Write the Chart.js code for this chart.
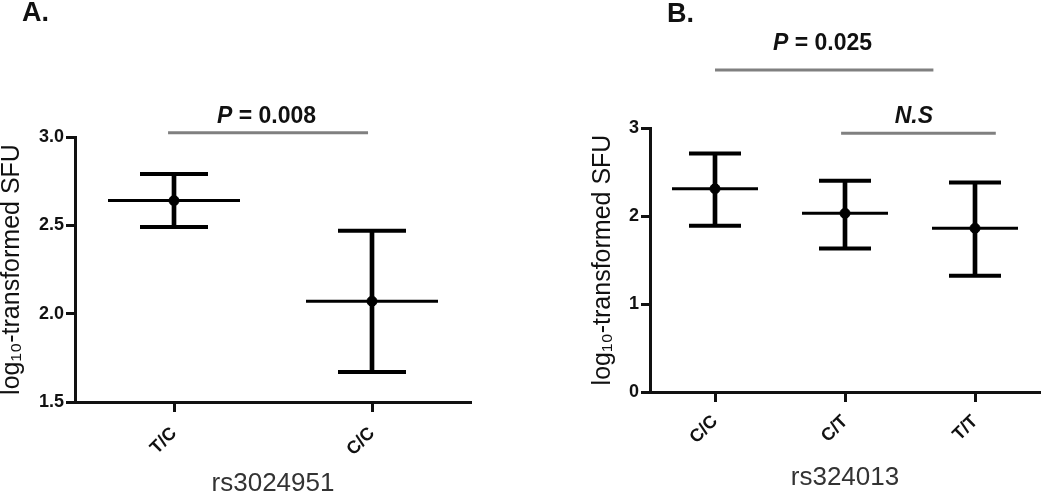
<!DOCTYPE html>
<html>
<head>
<meta charset="utf-8">
<script src="https://cdn.jsdelivr.net/npm/chart.js@4.4.0/dist/chart.umd.min.js"></script>
<style>
  html, body { margin: 0; padding: 0; background: #fff; }
  #wrap { position: relative; width: 1050px; height: 497px; overflow: hidden; }
  .panel { position: absolute; top: 0; height: 497px; }
  #panelA { left: 0; width: 520px; }
  #panelB { left: 520px; width: 530px; }
  .tag { position: absolute; font: bold 27px "Liberation Sans", Arial, sans-serif; line-height: 27px; color: #111; }
</style>
</head>
<body>
<div id="wrap">
  <div class="panel" id="panelA"><canvas id="chartA"></canvas></div>
  <div class="panel" id="panelB"><canvas id="chartB"></canvas></div>
  <div class="tag" style="left:22px; top:-1px">A.</div>
  <div class="tag" style="left:667px; top:0px">B.</div>
</div>
<script>
// panel A: rs3024951
const genoA = ['T/C', 'C/C'];
const meanA = [2.64, 2.07];
const lowA = [2.49, 1.67];
const highA = [2.79, 2.47];
const yTicksA = [1.5, 2.0, 2.5, 3.0];

// panel B: rs324013
const genoB = ['C/C', 'C/T', 'T/T'];
const meanB = [2.31, 2.03, 1.86];
const lowB = [1.89, 1.63, 1.32];
const highB = [2.71, 2.40, 2.38];
const yTicksB = [0, 1, 2, 3];

const FAMILY = '"Liberation Sans", Arial, sans-serif';
const INK = '#111';

// significance bars above the groups
const bracketPlugin = {
    id: 'brackets',
    afterDraw(chart, args, opts) {
        const {ctx, scales: {x, y}} = chart;
        (opts.items || []).forEach(b => {
            let x0 = x.getPixelForValue(b.x0);
            let x1 = x.getPixelForValue(b.x1);
            let yl = y.getPixelForValue(b.y);
            ctx.save();
            ctx.strokeStyle = '#808080';
            ctx.lineWidth = 3;
            ctx.beginPath();
            ctx.moveTo(x0, yl);
            ctx.lineTo(x1, yl);
            ctx.stroke();

            let italic = `italic bold 23px ${FAMILY}`;
            let bold = `bold 23px ${FAMILY}`;
            ctx.font = italic;
            let w1 = ctx.measureText(b.em).width;
            ctx.font = bold;
            let w2 = ctx.measureText(b.rest).width;
            let cx = x.getPixelForValue(b.tx);
            let ty = y.getPixelForValue(b.ty);
            let sx = cx - (w1 + w2) / 2;
            ctx.fillStyle = INK;
            ctx.textAlign = 'left';
            ctx.textBaseline = 'alphabetic';
            ctx.font = italic;
            ctx.fillText(b.em, sx, ty);
            ctx.font = bold;
            ctx.fillText(b.rest, sx + w1, ty);
            ctx.restore();
        });
    }
};

function pointSet(data, style, radius, width) {
    return {
        type: 'line',
        data: data,
        showLine: false,
        pointStyle: style,
        pointRadius: radius,
        pointHoverRadius: radius,
        pointBorderColor: '#000',
        pointBackgroundColor: '#000',
        pointBorderWidth: width,
        clip: false
    };
}

function buildChart(canvasId, s) {
    return new Chart(document.getElementById(canvasId), {
        type: 'bar',
        data: {
            labels: s.labels,
            datasets: [
                pointSet(s.means, 'circle', 5, 1),
                pointSet(s.means, 'line', s.meanHalf, 3),
                pointSet(s.highs, 'line', s.capHalf, 4),
                pointSet(s.lows, 'line', s.capHalf, 4),
                {
                    type: 'bar',
                    data: s.labels.map((l, i) => [s.lows[i], s.highs[i]]),
                    backgroundColor: '#000',
                    borderWidth: 0,
                    barThickness: 4
                }
            ]
        },
        options: {
            responsive: true,
            maintainAspectRatio: false,
            animation: false,
            events: [],
            layout: { padding: s.padding, autoPadding: false },
            plugins: {
                legend: { display: false },
                tooltip: { enabled: false },
                brackets: { items: s.brackets }
            },
            scales: {
                x: {
                    type: 'category',
                    offset: true,
                    ticks: {
                        minRotation: 45,
                        maxRotation: 45,
                        color: INK,
                        padding: s.xTickPad,
                        font: { family: FAMILY, size: 18, weight: 'bold' }
                    },
                    grid: {
                        offset: false,
                        drawOnChartArea: false,
                        tickLength: 10,
                        tickWidth: 3,
                        tickColor: INK
                    },
                    border: { display: true, color: INK, width: 3 },
                    title: {
                        display: true,
                        text: s.xTitle,
                        color: '#333',
                        font: { family: FAMILY, size: 26, lineHeight: 1 },
                        padding: { top: 0, bottom: s.xTitlePad }
                    },
                    afterFit: sc => {
                        sc.height = s.xHeight;
                        sc.paddingLeft = 0;
                        sc.paddingRight = 0;
                    }
                },
                y: {
                    min: s.yTicks[0],
                    max: s.yTicks[s.yTicks.length - 1],
                    afterBuildTicks: sc => { sc.ticks = s.yTicks.map(v => ({ value: v })); },
                    ticks: {
                        color: INK,
                        padding: s.yTickPad,
                        font: { family: FAMILY, size: 18, weight: 'bold' },
                        callback: s.yFormat
                    },
                    grid: {
                        drawOnChartArea: false,
                        tickLength: 9,
                        tickWidth: 3,
                        tickColor: INK
                    },
                    border: { display: true, color: INK, width: 3 },
                    title: {
                        display: true,
                        text: 'log₁₀-transformed SFU',
                        color: INK,
                        font: { family: FAMILY, size: 25, lineHeight: 1 },
                        padding: { top: s.yTitlePad, bottom: 0 }
                    },
                    afterFit: sc => {
                        sc.width = s.yWidth;
                        sc.paddingTop = 0;
                        sc.paddingBottom = 0;
                    }
                }
            }
        },
        plugins: [bracketPlugin]
    });
}

buildChart('chartA', {
    labels: genoA, means: meanA, lows: lowA, highs: highA,
    yTicks: yTicksA, yFormat: v => Number(v).toFixed(1),
    xTitle: 'rs3024951', xTitlePad: 0, xHeight: 95, xTickPad: 11,
    yWidth: 75, yTickPad: 2, yTitlePad: 0,
    meanHalf: 66, capHalf: 34,
    padding: { top: 137, right: 49, left: 0, bottom: 0 },
    brackets: [
        { x0: -0.03, x1: 0.98, y: 3.024, tx: 0.467, ty: 3.079, em: 'P', rest: ' = 0.008' }
    ]
});

buildChart('chartB', {
    labels: genoB, means: meanB, lows: lowB, highs: highB,
    yTicks: yTicksB, yFormat: v => String(v),
    xTitle: 'rs324013', xTitlePad: 6, xHeight: 105, xTickPad: 9,
    yWidth: 130, yTickPad: 2, yTitlePad: 71,
    meanHalf: 43, capHalf: 26,
    padding: { top: 128, right: 10, left: 0, bottom: 0 },
    brackets: [
        { x0: 0, x1: 1.68, y: 3.66, tx: 0.827, ty: 3.892, em: 'P', rest: ' = 0.025' },
        { x0: 0.97, x1: 2.16, y: 2.94, tx: 1.53, ty: 3.054, em: 'N.S', rest: '' }
    ]
});
</script>
</body>
</html>
